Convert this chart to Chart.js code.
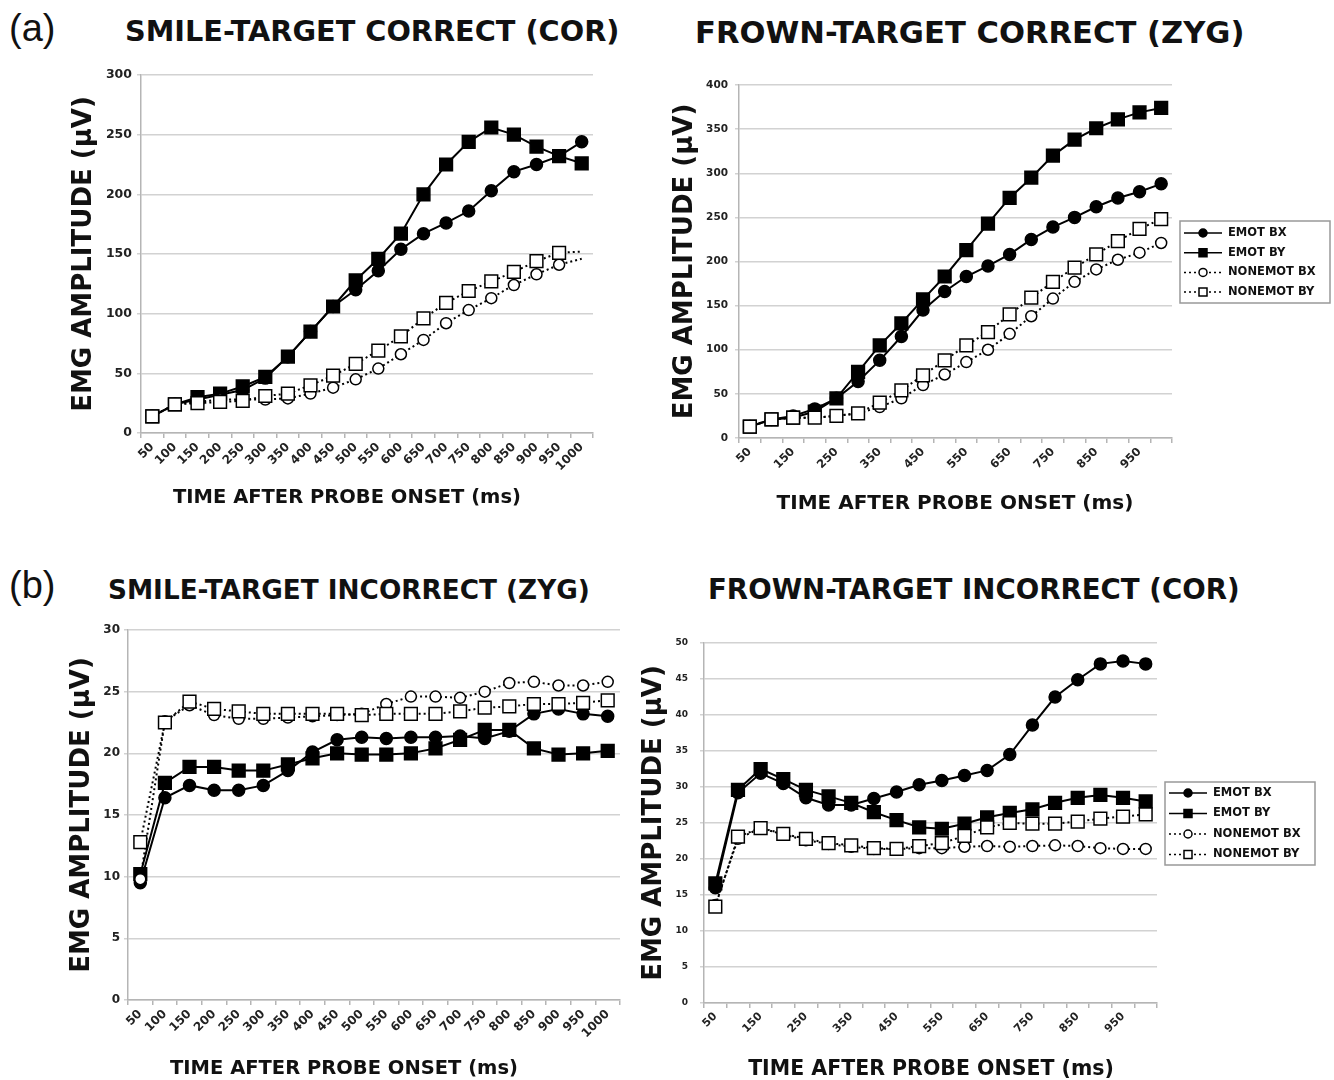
<!DOCTYPE html>
<html>
<head>
<meta charset="utf-8">
<script src="https://cdn.jsdelivr.net/npm/chart.js@4.4.1/dist/chart.umd.min.js"></script>
<style>
  body { margin: 0; background: #fff; }
  #page { position: relative; width: 1334px; height: 1080px; overflow: hidden; font-family: "DejaVu Sans", Verdana, sans-serif; }
  canvas { position: absolute; }
  .tag { position: absolute; font-family: "Liberation Sans", Arial, sans-serif; font-size: 38px; line-height: 1; color: #111; transform: translateY(-50%); }
  .ttl { position: absolute; font-weight: bold; font-size: 28px; line-height: 1; white-space: nowrap; color: #111; transform: translateY(-50%); }
  .xt { position: absolute; font-weight: bold; line-height: 1; white-space: nowrap; color: #111; transform: translate(-50%, -50%); }
</style>
</head>
<body>
<div id="page">
  <div class="tag" style="left:9px;top:28px">(a)</div>
  <div class="ttl" data-w="495" style="left:125px;top:31px">SMILE-TARGET CORRECT (COR)</div>
  <div class="ttl" data-w="550" style="left:695px;top:33px">FROWN-TARGET CORRECT (ZYG)</div>
  <div class="tag" style="left:9px;top:585px">(b)</div>
  <div class="ttl" data-w="482" style="left:108px;top:590px">SMILE-TARGET INCORRECT (ZYG)</div>
  <div class="ttl" data-w="532" style="left:708px;top:590px">FROWN-TARGET INCORRECT (COR)</div>

  <canvas id="c1" width="570" height="460" style="left:40px;top:60px"></canvas>
  <canvas id="c2" width="694" height="460" style="left:640px;top:60px"></canvas>
  <canvas id="c3" width="600" height="470" style="left:40px;top:610px"></canvas>
  <canvas id="c4" width="704" height="470" style="left:630px;top:610px"></canvas>

  <div class="xt" style="left:347px;top:497px;font-size:19.5px">TIME AFTER PROBE ONSET (ms)</div>
  <div class="xt" style="left:955px;top:502px;font-size:20px">TIME AFTER PROBE ONSET (ms)</div>
  <div class="xt" style="left:344px;top:1068px;font-size:19.5px">TIME AFTER PROBE ONSET (ms)</div>
  <div class="xt" style="left:931px;top:1068px;font-size:20.5px">TIME AFTER PROBE ONSET (ms)</div>
</div>
<script>
// time after probe onset (ms)
const times = ["50", "100", "150", "200", "250", "300", "350", "400", "450", "500",
  "550", "600", "650", "700", "750", "800", "850", "900", "950", "1000"];
const seriesNames = ["EMOT BX", "EMOT BY", "NONEMOT BX", "NONEMOT BY"];

// (a) smile-target correct (COR)
const corEmotBX = [14, 24, 28, 32, 36, 46, 64, 85, 106, 120, 136, 154, 167, 176, 186, 203, 219, 225, 232, 244];
const corEmotBY = [14, 24, 30, 33, 39, 47, 64, 85, 106, 128, 146, 167, 200, 225, 244, 256, 250, 240, 232, 226];
const corNonBX = [14, 24, 26, 28, 28, 28, 29, 33, 38, 45, 54, 66, 78, 92, 103, 113, 124, 133, 141, 146];
const corNonBY = [14, 24, 25, 26, 27, 31, 33, 40, 48, 58, 69, 81, 96, 109, 119, 127, 135, 144, 151, 152];

// (a) frown-target correct (ZYG)
const zygEmotBX = [13, 21, 25, 33, 45, 64, 88, 115, 145, 166, 183, 195, 208, 225, 239, 250, 262, 272, 279, 288];
const zygEmotBY = [13, 21, 23, 30, 45, 75, 105, 130, 157, 183, 213, 243, 272, 295, 320, 338, 351, 361, 369, 374];
const zygNonBX = [13, 21, 23, 23, 25, 28, 35, 45, 60, 72, 86, 100, 118, 138, 158, 177, 191, 202, 210, 221];
const zygNonBY = [13, 21, 23, 23, 25, 28, 40, 54, 71, 88, 105, 120, 140, 159, 177, 193, 208, 223, 237, 248];

// (b) smile-target incorrect (ZYG)
const izEmotBX = [9.5, 16.4, 17.4, 17.0, 17.0, 17.4, 18.6, 20.1, 21.1, 21.3, 21.2, 21.3, 21.3, 21.4, 21.2, 21.8, 23.2, 23.6, 23.2, 23.0];
const izEmotBY = [10.2, 17.6, 18.9, 18.9, 18.6, 18.6, 19.1, 19.6, 20.0, 19.9, 19.9, 20.0, 20.4, 21.1, 21.9, 21.9, 20.4, 19.9, 20.0, 20.2];
const izNonBX = [9.8, 22.6, 23.9, 23.1, 22.8, 22.8, 22.9, 23.0, 23.1, 23.2, 24.0, 24.6, 24.6, 24.5, 25.0, 25.7, 25.8, 25.5, 25.5, 25.8];
const izNonBY = [12.8, 22.5, 24.2, 23.6, 23.4, 23.2, 23.2, 23.2, 23.2, 23.1, 23.2, 23.2, 23.2, 23.4, 23.7, 23.8, 24.0, 24.0, 24.1, 24.3];

// (b) frown-target incorrect (COR)
const icEmotBX = [16.0, 29.2, 31.9, 30.5, 28.5, 27.5, 27.5, 28.4, 29.3, 30.3, 30.9, 31.6, 32.3, 34.5, 38.6, 42.5, 44.9, 47.1, 47.5, 47.1];
const icEmotBY = [16.6, 29.6, 32.5, 31.1, 29.6, 28.7, 27.8, 26.5, 25.4, 24.4, 24.2, 24.9, 25.8, 26.4, 26.9, 27.8, 28.5, 28.9, 28.5, 28.0];
const icNonBX = [13.6, 22.8, 24.3, 23.4, 22.6, 22.1, 21.7, 21.4, 21.4, 21.5, 21.5, 21.7, 21.8, 21.7, 21.8, 21.9, 21.8, 21.5, 21.4, 21.4];
const icNonBY = [13.4, 23.1, 24.3, 23.5, 22.8, 22.2, 21.9, 21.5, 21.4, 21.8, 22.2, 23.2, 24.4, 25.0, 24.9, 24.9, 25.2, 25.6, 25.9, 26.2];

const FONT = "'DejaVu Sans', Verdana, sans-serif";

// stretch the panel titles to the width they have in the figure
document.querySelectorAll(".ttl").forEach((el) => {
  const target = parseFloat(el.dataset.w);
  el.style.fontSize = (28 * target) / el.offsetWidth + "px";
});

// legend box with line + marker samples, drawn in the right margin
const emgLegend = {
  id: "emgLegend",
  afterDraw(chart, args, opts) {
    if (!opts.box) return;
    const b = opts.box;
    const ctx = chart.ctx;
    ctx.save();
    ctx.strokeStyle = "#999";
    ctx.lineWidth = 1.5;
    ctx.strokeRect(b.x, b.y, b.w, b.h);
    ctx.font = "bold 11.5px " + FONT;
    ctx.textBaseline = "middle";
    chart.data.datasets.forEach((ds, i) => {
      const cy = b.y + b.first + i * b.row;
      const x0 = b.x + 4;
      ctx.strokeStyle = "#000";
      ctx.lineWidth = 1.5;
      ctx.setLineDash(ds.borderDash);
      ctx.beginPath();
      ctx.moveTo(x0, cy);
      ctx.lineTo(x0 + 38, cy);
      ctx.stroke();
      ctx.setLineDash([]);
      ctx.fillStyle = ds.pointBackgroundColor;
      ctx.beginPath();
      if (ds.pointStyle === "rect") ctx.rect(x0 + 15, cy - 4, 8, 8);
      else ctx.arc(x0 + 19, cy, 4, 0, Math.PI * 2);
      ctx.fill();
      ctx.stroke();
      ctx.fillStyle = "#111";
      ctx.fillText(ds.label, x0 + 44, cy);
    });
    ctx.restore();
  },
};

function makeDatasets(series, hideLast) {
  return series.map((data, i) => {
    const emot = i < 2;
    const square = i % 2 === 1;
    const r = square ? 9 : emot ? 6 : 5.5;
    return {
      label: seriesNames[i],
      data: data,
      borderColor: "#000",
      borderWidth: 2,
      borderDash: emot ? [] : [2, 3],
      pointStyle: square ? "rect" : "circle",
      pointRadius: (c) => (hideLast && !emot && c.dataIndex === data.length - 1 ? 0 : r),
      pointBackgroundColor: emot ? "#000" : "#fff",
      pointBorderColor: "#000",
      pointBorderWidth: 1.5,
      tension: 0,
      order: 3 - i,
    };
  });
}

function makePanel(id, p) {
  new Chart(document.getElementById(id).getContext("2d"), {
    type: "line",
    data: { labels: times, datasets: makeDatasets(p.series, p.hideLast) },
    plugins: [emgLegend],
    options: {
      responsive: false,
      animation: false,
      layout: { padding: { left: 0, top: p.padTop, right: p.padRight, bottom: 0 } },
      plugins: {
        legend: { display: false },
        tooltip: { enabled: false },
        emgLegend: { box: p.legend },
      },
      scales: {
        x: {
          offset: true,
          grid: { display: true, drawOnChartArea: false, offset: true, tickLength: 5, color: "#b5b5b5", lineWidth: 1.5 },
          border: { color: "#b5b5b5", width: 1.5 },
          ticks: {
            autoSkip: false,
            minRotation: 45,
            maxRotation: 45,
            padding: 2,
            color: "#222",
            font: { family: FONT, size: p.xTickSize, weight: "bold" },
            callback: function (v, i) {
              return p.skipOdd && i % 2 ? "" : this.getLabelForValue(v);
            },
          },
          afterFit: (s) => { s.height = p.xHeight; },
        },
        y: {
          min: 0,
          max: p.yMax,
          grid: { color: "#d2d2d2", lineWidth: 1.5, tickLength: 4 },
          border: { color: "#b5b5b5", width: 1.5 },
          ticks: {
            stepSize: p.yStep,
            padding: p.yTickPad,
            color: "#222",
            font: { family: FONT, size: p.yTickSize, weight: "bold" },
          },
          title: {
            display: true,
            text: "EMG AMPLITUDE (μV)",
            color: "#111",
            font: { family: FONT, size: 26, weight: "bold" },
            padding: { top: p.yTitlePad, bottom: 0 },
          },
          afterFit: (s) => { s.width = p.yWidth; },
        },
      },
    },
  });
}

makePanel("c1", {
  series: [corEmotBX, corEmotBY, corNonBX, corNonBY], hideLast: true,
  yMax: 300, yStep: 50, padTop: 15, padRight: 17, yWidth: 101, xHeight: 87,
  yTickPad: 5, yTickSize: 12.5, xTickSize: 12, yTitlePad: 29,
});

makePanel("c2", {
  series: [zygEmotBX, zygEmotBY, zygNonBX, zygNonBY], skipOdd: true,
  yMax: 400, yStep: 50, padTop: 25, padRight: 162, yWidth: 99, xHeight: 82,
  yTickPad: 7, yTickSize: 10.5, xTickSize: 11.5, yTitlePad: 30,
  legend: { x: 540, y: 161, w: 150, h: 82, first: 12, row: 19.7 },
});

makePanel("c3", {
  series: [izEmotBX, izEmotBY, izNonBX, izNonBY],
  yMax: 30, yStep: 5, padTop: 20, padRight: 20, yWidth: 88, xHeight: 80,
  yTickPad: 4, yTickSize: 12, xTickSize: 12, yTitlePad: 27,
});

makePanel("c4", {
  series: [icEmotBX, icEmotBY, icNonBX, icNonBY], skipOdd: true,
  yMax: 50, yStep: 5, padTop: 33, padRight: 177, yWidth: 74, xHeight: 77,
  yTickPad: 12, yTickSize: 9, xTickSize: 11, yTitlePad: 9,
  legend: { x: 535, y: 172, w: 150, h: 83, first: 11, row: 20.5 },
});
</script>
</body>
</html>
